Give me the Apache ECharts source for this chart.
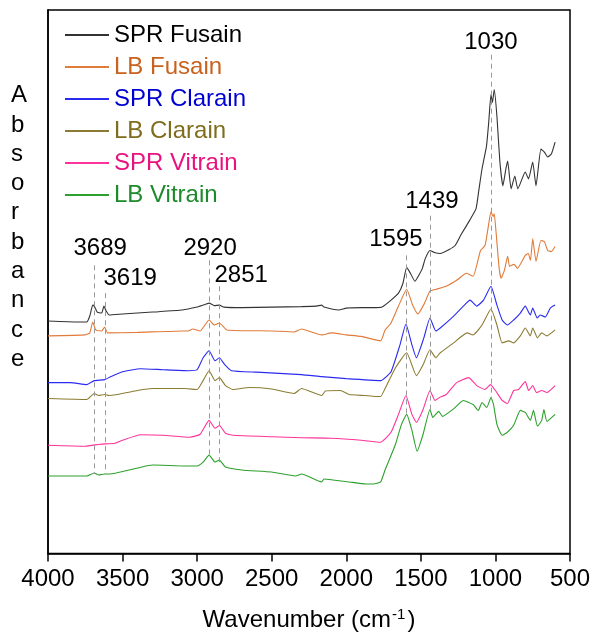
<!DOCTYPE html>
<html>
<head>
<meta charset="utf-8">
<script src="https://cdn.jsdelivr.net/npm/echarts@6/dist/echarts.min.js"></script>
<style>
  html, body { margin: 0; padding: 0; background: #fff; }
  #chart { width: 603px; height: 637px; }
</style>
</head>
<body>
<div id="chart"></div>
<script>
// FTIR spectra, stacked with vertical offsets (arbitrary absorbance units)
const sprFusain = [
  [4000, 2.34], [3800, 2.33], [3740, 2.33], [3720, 2.39], [3700, 2.50], [3690, 2.49], [3670, 2.43],
  [3640, 2.42], [3625, 2.49], [3610, 2.44], [3590, 2.40], [3500, 2.41], [3300, 2.43], [3100, 2.45],
  [3000, 2.48], [2960, 2.50], [2920, 2.52], [2885, 2.495], [2851, 2.50], [2820, 2.48], [2700, 2.475],
  [2500, 2.48], [2300, 2.485], [2200, 2.49], [2165, 2.50], [2150, 2.48], [2050, 2.45], [2000, 2.47],
  [1900, 2.475], [1800, 2.475], [1760, 2.48], [1700, 2.55], [1650, 2.62], [1620, 2.72], [1595, 2.88],
  [1570, 2.82], [1540, 2.74], [1510, 2.81], [1490, 2.87], [1470, 2.97], [1439, 3.05], [1410, 3.03],
  [1370, 3.02], [1310, 3.06], [1270, 3.10], [1230, 3.21], [1170, 3.36], [1130, 3.47], [1110, 3.67],
  [1090, 3.87], [1060, 4.10], [1045, 4.34], [1030, 4.62], [1020, 4.54], [1008, 4.67], [990, 4.40],
  [970, 3.94], [950, 3.70], [930, 3.87], [918, 3.95], [895, 3.67], [870, 3.80], [850, 3.67],
  [800, 3.84], [778, 3.77], [750, 3.94], [728, 3.70], [695, 4.07], [672, 4.04], [650, 3.99],
  [625, 4.02], [600, 4.14]
];
const lbFusain = [
  [4000, 2.19], [3750, 2.20], [3720, 2.22], [3700, 2.33], [3680, 2.25], [3640, 2.24], [3620, 2.28],
  [3600, 2.22], [3400, 2.225], [3100, 2.24], [3060, 2.24], [3030, 2.26], [2980, 2.24], [2920, 2.35],
  [2885, 2.30], [2851, 2.32], [2800, 2.25], [2500, 2.24], [2350, 2.23], [2300, 2.26], [2165, 2.20],
  [2100, 2.22], [2000, 2.20], [1900, 2.185], [1770, 2.14], [1740, 2.25], [1700, 2.32], [1650, 2.49],
  [1595, 2.66], [1555, 2.50], [1520, 2.41], [1475, 2.52], [1439, 2.64], [1395, 2.66], [1330, 2.69],
  [1260, 2.75], [1195, 2.82], [1150, 2.79], [1100, 3.05], [1070, 3.10], [1050, 3.27], [1030, 3.44],
  [1015, 3.39], [1008, 3.42], [995, 3.22], [975, 2.87], [962, 2.77], [940, 2.85], [918, 2.99],
  [905, 2.89], [875, 2.91], [852, 2.87], [800, 3.00], [780, 3.02], [765, 2.95], [750, 3.17],
  [728, 2.94], [695, 3.15], [672, 3.14], [650, 3.05], [625, 3.04], [600, 3.09]
];
const sprClarain = [
  [4000, 1.72], [3850, 1.72], [3740, 1.70], [3690, 1.74], [3620, 1.75], [3580, 1.78], [3500, 1.83],
  [3380, 1.86], [3230, 1.85], [3060, 1.84], [3000, 1.85], [2960, 1.97], [2920, 2.04], [2880, 1.94],
  [2851, 1.97], [2815, 1.90], [2770, 1.84], [2600, 1.825], [2300, 1.80], [2165, 1.78], [2000, 1.76],
  [1770, 1.74], [1700, 1.83], [1640, 2.10], [1600, 2.31], [1560, 2.10], [1530, 1.97], [1480, 2.17],
  [1439, 2.37], [1400, 2.24], [1370, 2.27], [1280, 2.39], [1215, 2.49], [1170, 2.55], [1125, 2.49],
  [1080, 2.55], [1030, 2.69], [990, 2.50], [955, 2.35], [920, 2.30], [878, 2.35], [833, 2.42],
  [800, 2.49], [766, 2.40], [750, 2.47], [720, 2.37], [700, 2.40], [665, 2.38], [632, 2.47], [600, 2.50]
];
const lbClarain = [
  [4000, 1.56], [3740, 1.55], [3690, 1.61], [3660, 1.59], [3620, 1.60], [3590, 1.59], [3400, 1.64],
  [3300, 1.66], [3080, 1.66], [3000, 1.65], [2960, 1.74], [2920, 1.84], [2880, 1.74], [2851, 1.77],
  [2810, 1.69], [2760, 1.65], [2650, 1.67], [2500, 1.655], [2350, 1.61], [2300, 1.66], [2165, 1.59],
  [2140, 1.635], [2040, 1.64], [1980, 1.60], [1880, 1.59], [1800, 1.58], [1770, 1.58], [1740, 1.66],
  [1670, 1.87], [1595, 2.02], [1530, 1.79], [1485, 1.90], [1439, 2.05], [1400, 1.97], [1370, 2.02],
  [1280, 2.12], [1190, 2.22], [1150, 2.20], [1090, 2.30], [1030, 2.46], [990, 2.30], [955, 2.12],
  [910, 2.14], [878, 2.12], [833, 2.19], [800, 2.27], [766, 2.19], [750, 2.27], [718, 2.17],
  [690, 2.22], [655, 2.19], [600, 2.25]
];
const sprVitrain = [
  [4000, 1.09], [3750, 1.08], [3650, 1.10], [3550, 1.11], [3500, 1.14], [3380, 1.195], [3230, 1.19],
  [3050, 1.17], [2980, 1.20], [2920, 1.34], [2880, 1.26], [2851, 1.29], [2810, 1.21], [2760, 1.19],
  [2500, 1.175], [2300, 1.165], [2100, 1.16], [1900, 1.14], [1770, 1.12], [1700, 1.22], [1650, 1.40],
  [1600, 1.59], [1560, 1.40], [1530, 1.32], [1485, 1.45], [1439, 1.64], [1405, 1.54], [1375, 1.57],
  [1330, 1.60], [1260, 1.72], [1180, 1.77], [1125, 1.69], [1070, 1.65], [1033, 1.70], [1000, 1.64],
  [955, 1.54], [920, 1.51], [878, 1.64], [845, 1.65], [800, 1.73], [777, 1.64], [750, 1.69],
  [725, 1.62], [690, 1.64], [655, 1.62], [600, 1.69]
];
const lbVitrain = [
  [4000, 0.78], [3740, 0.78], [3690, 0.81], [3660, 0.79], [3620, 0.80], [3590, 0.80], [3400, 0.86],
  [3300, 0.89], [3080, 0.88], [3000, 0.88], [2960, 0.92], [2920, 0.99], [2880, 0.92], [2851, 0.94],
  [2810, 0.87], [2700, 0.84], [2500, 0.82], [2340, 0.78], [2300, 0.80], [2165, 0.72], [2150, 0.75],
  [2090, 0.74], [1980, 0.72], [1870, 0.70], [1820, 0.70], [1770, 0.72], [1740, 0.84], [1670, 1.10],
  [1630, 1.30], [1595, 1.40], [1560, 1.24], [1525, 1.03], [1485, 1.20], [1439, 1.45], [1420, 1.37],
  [1380, 1.43], [1355, 1.38], [1285, 1.45], [1215, 1.54], [1150, 1.50], [1115, 1.44], [1090, 1.52],
  [1058, 1.47], [1030, 1.57], [1013, 1.50], [990, 1.30], [955, 1.19], [920, 1.22], [878, 1.29],
  [833, 1.44], [800, 1.42], [766, 1.34], [745, 1.44], [718, 1.28], [690, 1.34], [675, 1.45],
  [655, 1.33], [600, 1.40]
];

const seriesNames = ['SPR Fusain', 'LB Fusain', 'SPR Clarain', 'LB Clarain', 'SPR Vitrain', 'LB Vitrain'];
const seriesData = [sprFusain, lbFusain, sprClarain, lbClarain, sprVitrain, lbVitrain];
const lineColors = ['#333333', '#e07b39', '#2b2bf0', '#8c7b32', '#ff3399', '#2ca02c'];
const textColors = ['#000000', '#c8621c', '#0000d0', '#7f6d1e', '#e8127f', '#1d8a2b'];

// marked bands: wavenumber, dashed line top/bottom, label anchor
const peakWn = [3689, 3619, 2920, 2851, 1595, 1439, 1030];
const peakTop = [2.90, 2.62, 2.95, 2.69, 3.00, 3.40, 5.02];
const peakBottom = [0.80, 0.80, 0.99, 0.92, 1.38, 1.45, 1.55];
const peakLabelWn = [3650, 3449, 2913, 2705, 1667, 1426, 1030];
const peakLabelY = [3.07, 2.77, 3.07, 2.80, 3.16, 3.54, 5.14];

const FONT = "'Liberation Sans', Arial, sans-serif";

const chart = echarts.init(document.getElementById('chart'), null, { renderer: 'canvas' });

const series = seriesNames.map((name, i) => ({
  name,
  type: 'line',
  data: seriesData[i],
  symbol: 'none',
  smooth: 0.15,
  lineStyle: { color: lineColors[i], width: 1.1 },
  itemStyle: { color: lineColors[i] },
  z: 3
}));

series.push({
  name: 'peaks',
  type: 'scatter',
  symbolSize: 0,
  silent: true,
  itemStyle: { opacity: 1, color: '#000' },
  data: peakWn.map((w, i) => ({
    value: [peakLabelWn[i], peakLabelY[i]],
    label: { show: true, formatter: String(w), color: '#000' }
  })),
  label: {
    position: 'inside',
    fontSize: 24,
    fontFamily: FONT,
    color: '#000',
    opacity: 1
  },
  markLine: {
    silent: true,
    symbol: 'none',
    label: { show: false },
    lineStyle: { color: '#999', type: [5, 4], width: 1, opacity: 1 },
    data: peakWn.map((w, i) => [
      { coord: [w, peakTop[i]] },
      { coord: [w, peakBottom[i]] }
    ])
  },
  z: 2
});

chart.setOption({
  animation: false,
  backgroundColor: '#fff',
  grid: {
    left: 48, right: 33, top: 10, bottom: 80,
    show: true, borderColor: '#000', borderWidth: 1.5
  },
  legend: {
    orient: 'vertical',
    left: 65,
    top: 23,
    padding: 0,
    itemWidth: 44,
    itemHeight: 2,
    itemGap: 8,
    icon: 'rect',
    textStyle: { fontSize: 24, fontFamily: FONT, lineHeight: 24 },
    data: seriesNames.map((n, i) => ({ name: n, textStyle: { color: textColors[i] } }))
  },
  xAxis: {
    type: 'value',
    min: 500,
    max: 4000,
    interval: 500,
    inverse: true,
    axisLine: { show: true, lineStyle: { color: '#000', width: 1.5 } },
    axisTick: { show: true, inside: false, length: 8, lineStyle: { color: '#000', width: 1.5 } },
    axisLabel: { fontSize: 24, fontFamily: FONT, color: '#000', margin: 14, formatter: v => String(v) },
    splitLine: { show: false },
    name: '{a|Wavenumber (cm}{s|-1}{a|)}',
    nameLocation: 'middle',
    nameGap: 54,
    nameTextStyle: {
      rich: {
        a: { fontSize: 24, fontFamily: FONT, color: '#000' },
        s: { fontSize: 15, fontFamily: FONT, color: '#000', verticalAlign: 'top', padding: [0, 2, 10, 1] }
      }
    }
  },
  yAxis: {
    type: 'value',
    min: 0,
    max: 5.47,
    axisLine: { show: true, lineStyle: { color: '#000', width: 1.5 } },
    axisTick: { show: false },
    axisLabel: { show: false },
    splitLine: { show: false }
  },
  graphic: [{
    type: 'text',
    left: 11,
    top: 81,
    style: {
      text: 'Absorbance'.split('').join('\n'),
      font: '24px ' + FONT,
      fill: '#000',
      align: 'center',
      lineHeight: 29.3
    }
  }],
  series
});
</script>
</body>
</html>
